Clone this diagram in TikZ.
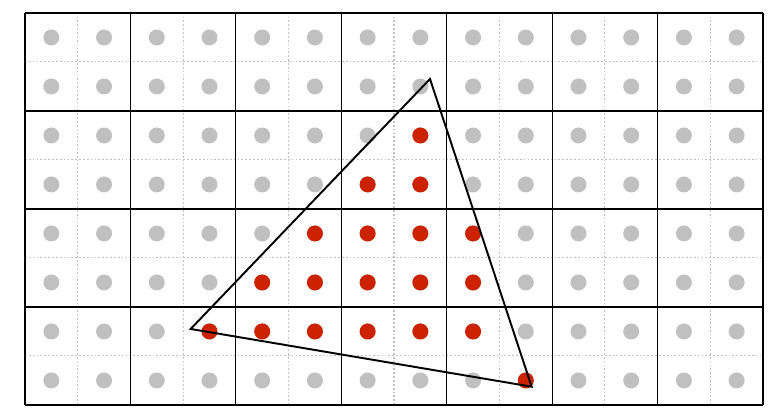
\documentclass[tikz,border=0pt]{standalone}
\usepackage{tikz}
\usetikzlibrary{calc}
\definecolor{szurke}{RGB}{192,192,192}
\definecolor{piros}{RGB}{204,34,0}
\tikzset{
  minta/.style={circle,fill=szurke,inner sep=0pt,minimum size=3.2mm},
  talalat/.style={circle,fill=piros,inner sep=0pt,minimum size=3.2mm},
  racs/.style={line width=0.7pt},
  finom/.style={szurke,line width=0.6pt,dash pattern=on 1pt off 1.2pt},
  hal/.style={line width=1.1pt,line join=miter},
}

\begin{document}
\begin{tikzpicture}[x=1.0543cm,y=0.98cm]
  \useasboundingbox (-0.474,-0.204) rectangle (14.304,8.265);
  % finom racs
  \foreach \i in {1,3,...,13} \draw[finom] (\i,0) -- (\i,8);
  \foreach \j in {1,3,5,7} \draw[finom] (0,\j) -- (14,\j);
  % durva racs
  \foreach \i in {0,2,...,14} \draw[racs] (\i,0) -- (\i,8);
  \foreach \j in {0,2,...,8} \draw[racs] (0,\j) -- (14,\j);
  % mintapontok
  \foreach \i in {0,...,13} \foreach \j in {0,...,7}
    \node[minta] (m-\i-\j) at (\i+0.5,\j+0.5) {};
  \foreach \i/\j in {7/5,6/4,7/4,5/3,6/3,7/3,8/3,4/2,5/2,6/2,7/2,8/2,
                     3/1,4/1,5/1,6/1,7/1,8/1,9/0}
    \node[talalat] at (m-\i-\j) {};
  % haromszog
  \coordinate (A) at (7.683,6.653);
  \coordinate (B) at (3.143,1.551);
  \coordinate (C) at (9.612,0.373);
  \draw[hal] (A) -- (B) -- (C) -- cycle;
\end{tikzpicture}
\end{document}
